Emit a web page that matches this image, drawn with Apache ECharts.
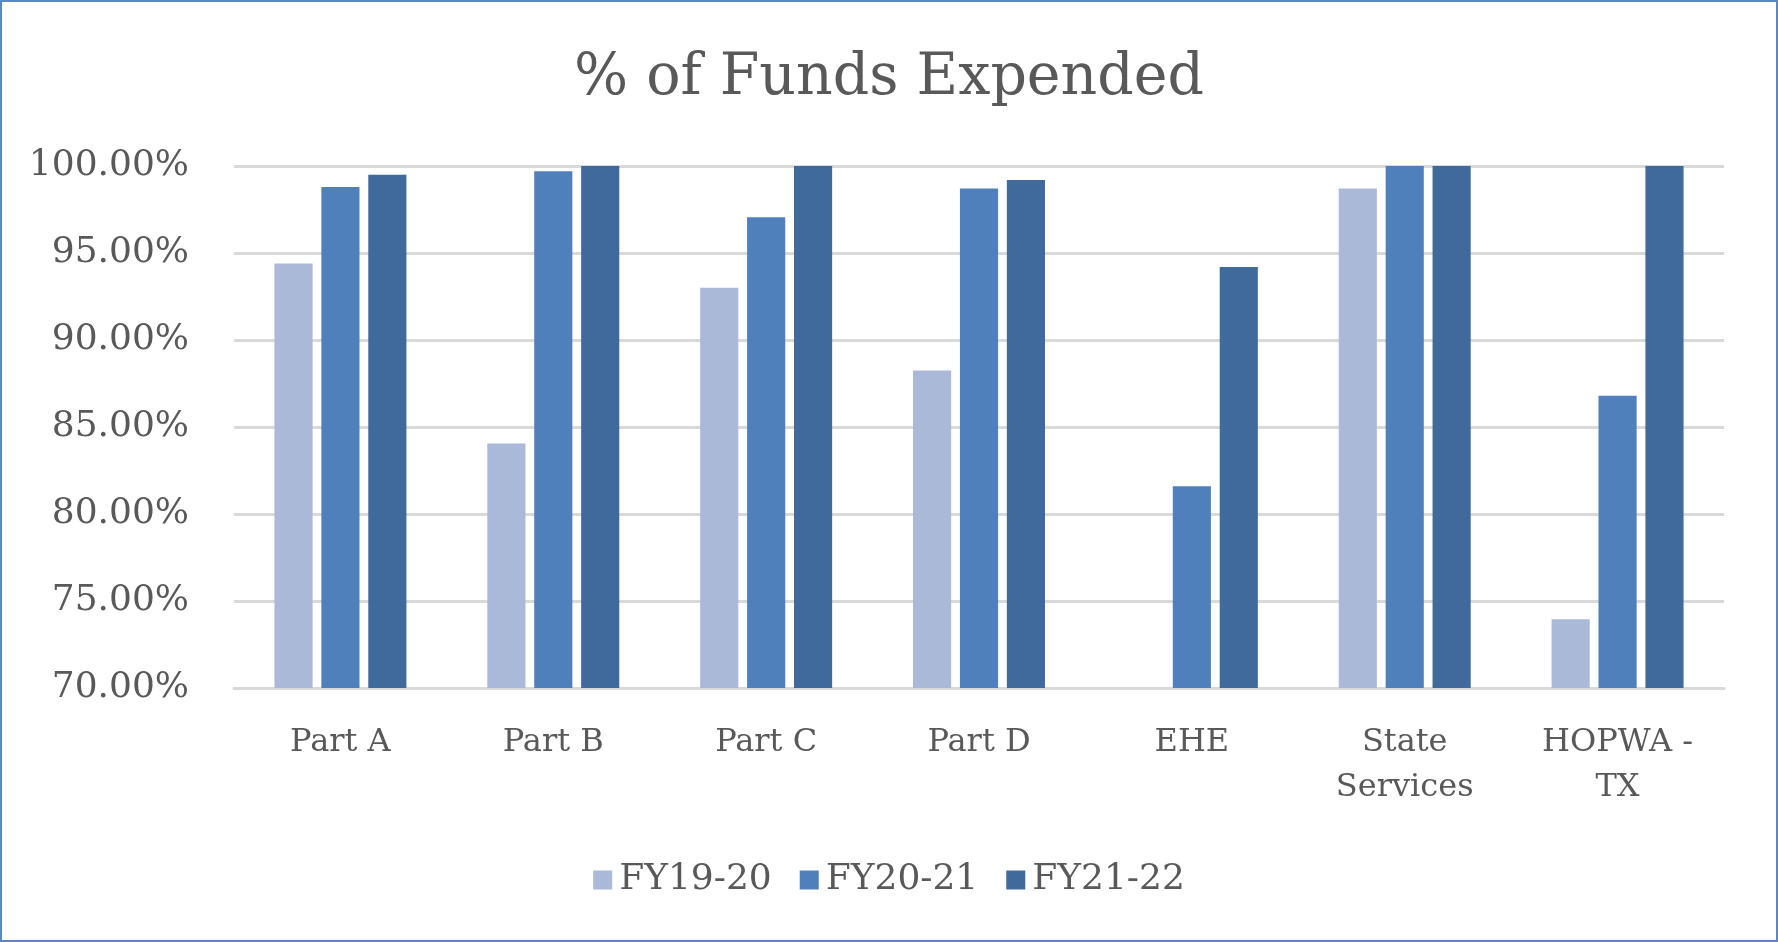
<!DOCTYPE html>
<html>
<head>
<meta charset="utf-8">
<script src="https://cdn.jsdelivr.net/npm/echarts@6/dist/echarts.min.js"></script>
<style>
    html, body { margin: 0; padding: 0; background: #fff; }
    #container { width: 1778px; height: 942px; box-sizing: border-box; border: 2px solid #5b87c5; }
</style>
</head>
<body>
<div id="container"></div>
<script>
// categories and series (percent expended)
var categories = ['Part A', 'Part B', 'Part C', 'Part D', 'EHE', 'State\nServices', 'HOPWA -\nTX'];
var seriesNames = ['FY19-20', 'FY20-21', 'FY21-22'];
var fy1920 = [94.4, 84.05, 93.0, 88.25, null, 98.7, 73.95];
var fy2021 = [98.8, 99.7, 97.05, 98.7, 81.6, 100, 86.8];
var fy2122 = [99.5, 100, 100, 99.2, 94.2, 100, 100];
var colors = ['#aab9d7', '#4f80bb', '#3f6a9b'];

var textColor = '#595959';
var fontFam = '"DejaVu Serif", serif';

var dom = document.getElementById('container');
var myChart = echarts.init(dom);

function makeSeries(name, data, color) {
    return {
        name: name,
        type: 'bar',
        data: data,
        barCategoryGap: '38%',
        barGap: '23%',
        itemStyle: { color: color }
    };
}

var options = {
    animation: false,
    title: {
        text: '% of Funds Expended',
        left: 'center',
        top: 44,
        textStyle: { fontFamily: fontFam, fontSize: 57, fontWeight: 'normal', color: textColor }
    },
    legend: {
        data: seriesNames,
        top: 855,
        left: 'center',
        itemWidth: 19,
        itemHeight: 19,
        itemGap: 28,
        icon: 'rect',
        textStyle: { fontFamily: fontFam, fontSize: 36, color: textColor, padding: [0, 0, 0, 2] }
    },
    grid: {
        left: 232,
        right: 52,
        top: 164,
        bottom: 252
    },
    xAxis: {
        type: 'category',
        data: categories,
        axisTick: { show: false },
        axisLine: { lineStyle: { color: '#d9d9d9', width: 3 } },
        axisLabel: {
            fontFamily: fontFam, fontSize: 32, color: textColor,
            margin: 32, lineHeight: 45, interval: 0
        }
    },
    yAxis: {
        type: 'value',
        min: 70,
        max: 100,
        interval: 5,
        axisLine: { show: false },
        axisTick: { show: false },
        splitLine: { lineStyle: { color: '#d9d9d9', width: 3 } },
        axisLabel: {
            fontFamily: fontFam, fontSize: 36, color: textColor, margin: 45,
            formatter: function (v) { return v.toFixed(2) + '%'; }
        }
    },
    series: [
        makeSeries(seriesNames[0], fy1920, colors[0]),
        makeSeries(seriesNames[1], fy2021, colors[1]),
        makeSeries(seriesNames[2], fy2122, colors[2])
    ]
};
myChart.setOption(options, true);
</script>
</body>
</html>
